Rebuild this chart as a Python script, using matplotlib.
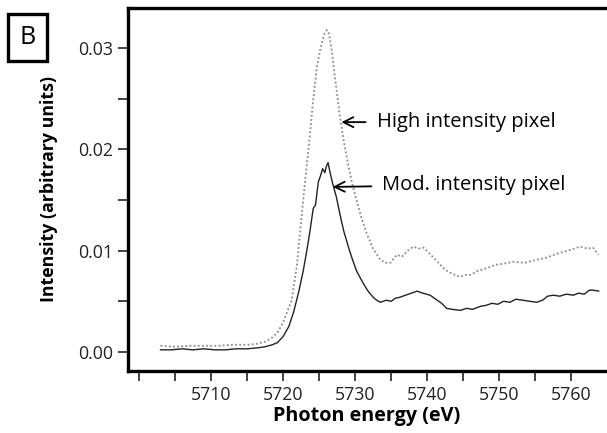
import matplotlib
matplotlib.use("Agg")
import matplotlib.pyplot as plt
from matplotlib.ticker import MultipleLocator

plt.rcParams['font.family'] = ['Open Sans', 'DejaVu Sans']

# photon energy (eV) and intensity
high_e = [5703.0, 5705.0, 5707.0, 5709.0, 5711.0, 5713.0, 5715.0, 5716.4, 5717.5,
          5718.5, 5719.3, 5720.0, 5720.6, 5721.2, 5721.9, 5722.8, 5723.75, 5724.2,
          5724.7, 5725.2, 5725.7, 5726.1, 5726.4, 5726.75, 5727.3, 5727.9, 5728.5,
          5729.1, 5729.6, 5730.2, 5730.9, 5731.6, 5732.5, 5733.5, 5734.2, 5734.9,
          5735.8, 5736.5, 5737.3, 5738.1, 5738.8, 5739.5, 5740.2, 5740.9, 5741.7,
          5742.5, 5743.5, 5744.6, 5745.3, 5746.0, 5747.0, 5748.0, 5748.75, 5749.5,
          5750.5, 5752.0, 5753.5, 5755.2, 5756.5, 5758.0, 5759.0, 5760.0, 5761.25,
          5762.2, 5763.0, 5763.75]
high_i = [0.0006, 0.0005, 0.0006, 0.0006, 0.0006, 0.0007, 0.0007, 0.0008, 0.0010,
          0.0014, 0.0020, 0.0029, 0.0040, 0.0051, 0.0084, 0.0150, 0.0216, 0.0250,
          0.0282, 0.0300, 0.0314, 0.0318, 0.0314, 0.0298, 0.0266, 0.0232, 0.0205,
          0.0183, 0.0166, 0.0150, 0.0132, 0.0117, 0.0102, 0.0091, 0.0088, 0.0088,
          0.0096, 0.0094, 0.0100, 0.0104, 0.0102, 0.0103, 0.0098, 0.0093, 0.0087,
          0.0081, 0.0077, 0.0074, 0.0076, 0.0076, 0.0080, 0.0082, 0.0084, 0.0086,
          0.0087, 0.0089, 0.0088, 0.0091, 0.0093, 0.0097, 0.0099, 0.0101, 0.0104,
          0.0102, 0.0103, 0.0096]

mod_e = [5703.0, 5704.5, 5706.0, 5707.5, 5709.0, 5710.5, 5712.0, 5713.5, 5715.0,
         5716.5, 5717.5, 5718.5, 5719.2, 5720.0, 5720.8, 5721.5, 5722.2, 5722.8,
         5723.3, 5723.75, 5724.2, 5724.5, 5724.9, 5725.2, 5725.5, 5725.8, 5726.0,
         5726.25, 5726.5, 5726.9, 5727.4, 5727.9, 5728.4, 5729.1, 5729.6, 5730.2,
         5731.1, 5731.8, 5732.5, 5733.0, 5733.5, 5734.3, 5735.0, 5735.6, 5736.25,
         5737.0, 5737.8, 5738.6, 5739.4, 5740.4, 5741.2, 5742.0, 5742.7, 5743.5,
         5744.6, 5745.5, 5746.3, 5747.4, 5748.2, 5749.0, 5749.8, 5750.6, 5751.5,
         5752.3, 5753.3, 5754.2, 5755.2, 5756.0, 5756.7, 5757.5, 5758.4, 5759.3,
         5760.3, 5761.0, 5761.8, 5762.5, 5763.0, 5763.8]
mod_i = [0.0002, 0.0002, 0.0003, 0.0002, 0.0003, 0.0002, 0.0002, 0.0003, 0.0003,
         0.0004, 0.0005, 0.0007, 0.0009, 0.0015, 0.0025, 0.0040, 0.0060, 0.0080,
         0.0100, 0.0120, 0.0142, 0.0145, 0.0168, 0.0174, 0.0181, 0.0177, 0.0183,
         0.0187, 0.0178, 0.0166, 0.0153, 0.0136, 0.0120, 0.0103, 0.0092, 0.0080,
         0.0068, 0.0060, 0.0054, 0.0051, 0.0049, 0.0051, 0.0050, 0.0053, 0.0054,
         0.0056, 0.0058, 0.0060, 0.0058, 0.0056, 0.0052, 0.0048, 0.0043, 0.0042,
         0.0041, 0.0043, 0.0042, 0.0045, 0.0046, 0.0048, 0.0047, 0.0050, 0.0049,
         0.0052, 0.0051, 0.0050, 0.0049, 0.0051, 0.0055, 0.0056, 0.0055, 0.0057,
         0.0056, 0.0058, 0.0057, 0.0061, 0.0061, 0.0060]

fig = plt.figure(figsize=(6.07, 4.33), dpi=100)
ax = fig.add_axes([0.211, 0.143, 0.786, 0.839])

ax.plot(high_e, high_i, color='#8a8a8a', lw=1.3, linestyle=(0, (1, 1.3)))
ax.plot(mod_e, mod_i, color='#222222', lw=1.0)

ax.set_xlim(5698.5, 5764.7)
ax.set_ylim(-0.0019, 0.0340)

ax.xaxis.set_major_locator(MultipleLocator(10))
ax.xaxis.set_minor_locator(MultipleLocator(5))
ax.yaxis.set_major_locator(MultipleLocator(0.01))
ax.yaxis.set_minor_locator(MultipleLocator(0.005))
ax.xaxis.set_major_formatter(lambda v, p: '' if v < 5705 else f'{v:.0f}')
ax.yaxis.set_major_formatter(lambda v, p: f'{v:.2f}')
ax.tick_params(which='both', direction='out', length=7.5, width=1.2, labelsize=12.8,
               color='#222222', labelcolor='#222222')

for s in ['left', 'bottom', 'top']:
    ax.spines[s].set_linewidth(2.4)
ax.spines['right'].set_visible(False)

ax.set_xlabel('Photon energy (eV)', fontsize=14.2, fontweight='bold', labelpad=1)
ax.set_ylabel('Intensity (arbitrary units)', fontsize=12.8, fontweight='bold', labelpad=14)

ax.annotate('High intensity pixel', xy=(5728.1, 0.0227), xytext=(5733.0, 0.0227),
            fontsize=14.5, va='center', ha='left',
            arrowprops=dict(arrowstyle='->', color='black', lw=1.3, shrinkA=6, shrinkB=0,
                            mutation_scale=18))
ax.annotate('Mod. intensity pixel', xy=(5726.9, 0.0163), xytext=(5733.8, 0.0165),
            fontsize=14.5, va='center', ha='left',
            arrowprops=dict(arrowstyle='->', color='black', lw=1.3, shrinkA=6, shrinkB=0,
                            mutation_scale=18))

fig.text(0.045, 0.913, 'B', fontsize=18, ha='center', va='center',
         bbox=dict(boxstyle='square,pad=0.45', fc='white', ec='black', lw=2.4))

fig.savefig('out.png', dpi=100)
